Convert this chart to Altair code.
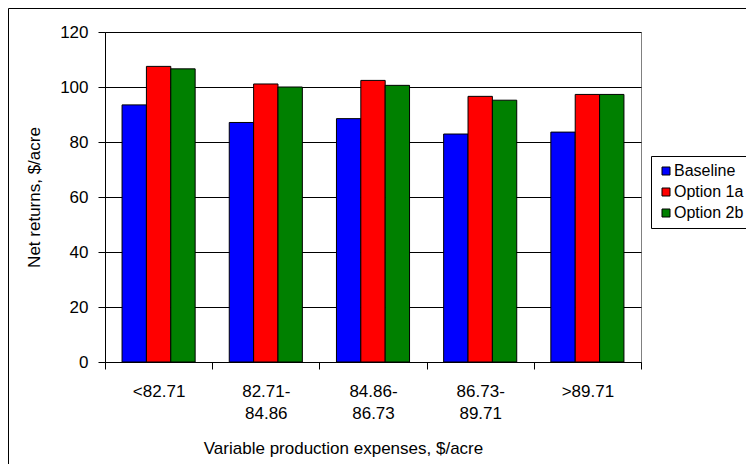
import altair as alt
import pandas as pd

categories = ["<82.71", "82.71- 84.86", "84.86- 86.73", "86.73- 89.71", ">89.71"]
series = ["Baseline", "Option 1a", "Option 2b"]
baseline = [93.5, 87.1, 88.5, 82.9, 83.6]
option_1a = [107.5, 101.1, 102.4, 96.6, 97.3]
option_2b = [106.6, 100.0, 100.6, 95.2, 97.3]
colors = ["#0000FF", "#FF0000", "#008000"]

rows = []
for name, vals in zip(series, [baseline, option_1a, option_2b]):
    for c, v in zip(categories, vals):
        rows.append({"group": c, "series": name, "value": v})
df = pd.DataFrame(rows)

FONT = "Liberation Sans"

bars = alt.Chart(df).mark_bar(stroke="black", strokeWidth=1).encode(
    x=alt.X(
        "group:N",
        sort=categories,
        scale=alt.Scale(paddingInner=0, paddingOuter=0),
        axis=alt.Axis(
            title="Variable production expenses, $/acre",
            labelAngle=0,
            labelExpr="split(datum.label, ' ')",
            labelLineHeight=22,
            labelFontSize=17,
            labelPadding=14,
            tickBand="extent",
            tickSize=7,
            tickColor="black",
            domainColor="black",
            titleFontSize=17,
            titleFontWeight="normal",
            titlePadding=19,
            titleX=238,
            titleAlign="center",
        ),
    ),
    xOffset=alt.XOffset("series:N", sort=series, scale=alt.Scale(paddingInner=0, paddingOuter=0.7)),
    y=alt.Y(
        "value:Q",
        scale=alt.Scale(domain=[0, 120], nice=False),
        axis=alt.Axis(
            title="Net returns, $/acre",
            values=[0, 20, 40, 60, 80, 100, 120],
            grid=True,
            gridColor="black",
            gridOpacity=1,
            labelFontSize=17,
            labelPadding=10,
            tickSize=7,
            tickColor="black",
            domainColor="black",
            titleFontSize=17,
            titleFontWeight="normal",
            titlePadding=16,
        ),
    ),
    color=alt.Color(
        "series:N",
        sort=series,
        scale=alt.Scale(domain=series, range=colors),
        legend=alt.Legend(
            title=None,
            orient="none",
            legendX=546,
            legendY=124,
            symbolType="square",
            symbolSize=64,
            symbolStrokeColor="black",
            symbolStrokeWidth=1,
            labelFontSize=16,
            labelOffset=0,
            rowPadding=5,
            padding=7,
            strokeColor="black",
            fillColor="white",
        ),
    ),
)

frame = alt.Chart(pd.DataFrame({"f": [0]})).mark_rect(
    fill="transparent", stroke="black", strokeWidth=1
).encode(
    x=alt.value(-96.5), x2=alt.value(900), y=alt.value(-23.5), y2=alt.value(700)
)

chart = alt.layer(frame, bars).properties(
    width=536,
    height=330,
    autosize=alt.AutoSizeParams(type="none"),
    padding={"left": 97, "top": 24, "right": 105, "bottom": 102},
).configure(font=FONT).configure_view(
    stroke="#808080", strokeWidth=1
).configure_axis(
    labelColor="black", titleColor="black", labelFont=FONT, titleFont=FONT
).configure_legend(labelFont=FONT, labelColor="black")

chart.save("out.html", embed_options={"renderer": "svg", "actions": False})
